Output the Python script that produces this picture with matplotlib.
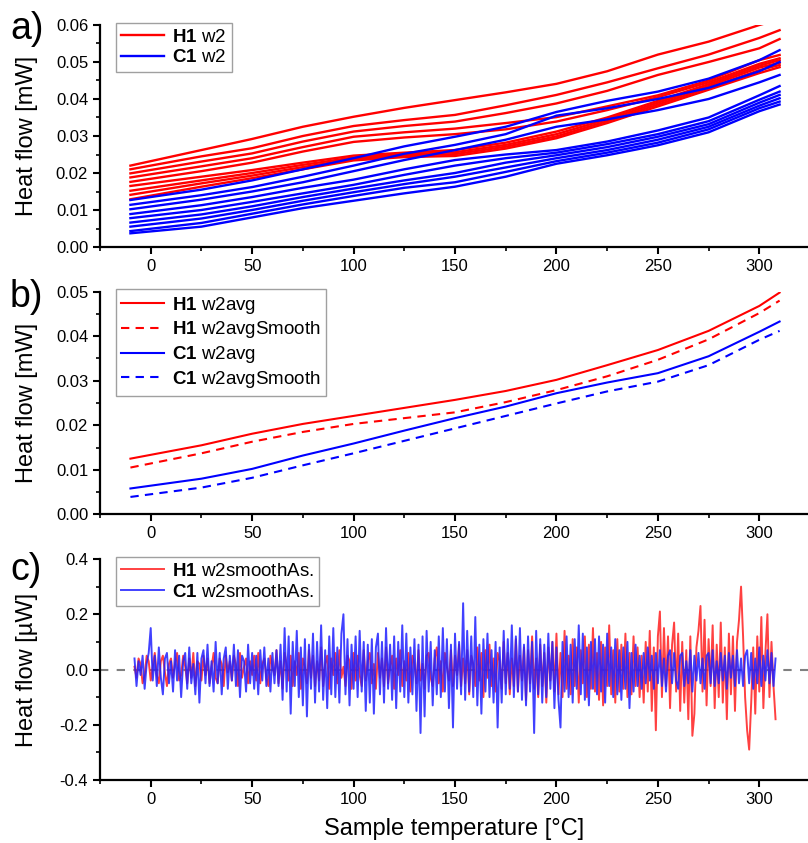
import numpy as np
import matplotlib
matplotlib.use("Agg")
import matplotlib.pyplot as plt
from matplotlib.ticker import MultipleLocator

plt.rcParams['font.family'] = ['Liberation Sans', 'DejaVu Sans']
plt.rcParams['mathtext.fontset'] = 'custom'
plt.rcParams['mathtext.rm'] = 'Liberation Sans'
plt.rcParams['mathtext.bf'] = 'Liberation Sans:bold'

# knot temperatures for panels a) and b)
temp = [-10, 25, 50, 75, 100, 125, 150, 175, 200, 225, 250, 275, 300, 310]

# a) individual H1 runs (red)
h1_runs = [
    [0.0220, 0.0262, 0.0292, 0.0325, 0.0352, 0.0376, 0.0397, 0.0418, 0.0441, 0.0475, 0.0520, 0.0555, 0.0600, 0.0615],
    [0.0210, 0.0245, 0.0267, 0.0300, 0.0327, 0.0343, 0.0357, 0.0383, 0.0411, 0.0445, 0.0483, 0.0520, 0.0565, 0.0586],
    [0.0199, 0.0231, 0.0253, 0.0285, 0.0312, 0.0327, 0.0339, 0.0362, 0.0388, 0.0422, 0.0465, 0.0500, 0.0537, 0.0562],
    [0.0188, 0.0218, 0.0240, 0.0270, 0.0298, 0.0310, 0.0320, 0.0335, 0.0351, 0.0380, 0.0410, 0.0450, 0.0505, 0.0519],
    [0.0176, 0.0205, 0.0228, 0.0258, 0.0284, 0.0296, 0.0305, 0.0318, 0.0339, 0.0370, 0.0405, 0.0445, 0.0495, 0.0510],
    [0.0165, 0.0190, 0.0208, 0.0228, 0.0247, 0.0255, 0.0262, 0.0282, 0.0312, 0.0350, 0.0395, 0.0440, 0.0490, 0.0505],
    [0.0152, 0.0180, 0.0200, 0.0222, 0.0242, 0.0251, 0.0256, 0.0276, 0.0305, 0.0345, 0.0390, 0.0435, 0.0485, 0.0498],
    [0.0141, 0.0172, 0.0193, 0.0216, 0.0238, 0.0247, 0.0251, 0.0271, 0.0299, 0.0340, 0.0385, 0.0430, 0.0478, 0.0492],
    [0.0129, 0.0163, 0.0186, 0.0210, 0.0234, 0.0243, 0.0246, 0.0266, 0.0294, 0.0335, 0.0380, 0.0425, 0.0470, 0.0486],
]

# a) individual C1 runs (blue)
c1_runs = [
    [0.0127, 0.0155, 0.0180, 0.0210, 0.0240, 0.0272, 0.0298, 0.0325, 0.0365, 0.0395, 0.0420, 0.0455, 0.0505, 0.0532],
    [0.0114, 0.0140, 0.0162, 0.0190, 0.0220, 0.0252, 0.0276, 0.0305, 0.0355, 0.0375, 0.0400, 0.0430, 0.0475, 0.0500],
    [0.0102, 0.0128, 0.0150, 0.0175, 0.0205, 0.0235, 0.0262, 0.0290, 0.0325, 0.0345, 0.0370, 0.0400, 0.0445, 0.0465],
    [0.0089, 0.0113, 0.0135, 0.0160, 0.0182, 0.0210, 0.0235, 0.0250, 0.0262, 0.0285, 0.0315, 0.0350, 0.0410, 0.0435],
    [0.0078, 0.0100, 0.0122, 0.0145, 0.0168, 0.0195, 0.0220, 0.0240, 0.0255, 0.0278, 0.0305, 0.0340, 0.0398, 0.0420],
    [0.0066, 0.0088, 0.0110, 0.0135, 0.0158, 0.0180, 0.0200, 0.0228, 0.0248, 0.0270, 0.0298, 0.0332, 0.0390, 0.0411],
    [0.0055, 0.0077, 0.0100, 0.0125, 0.0148, 0.0170, 0.0190, 0.0215, 0.0240, 0.0262, 0.0290, 0.0325, 0.0382, 0.0402],
    [0.0043, 0.0065, 0.0090, 0.0115, 0.0138, 0.0160, 0.0175, 0.0203, 0.0232, 0.0255, 0.0282, 0.0318, 0.0375, 0.0393],
    [0.0037, 0.0055, 0.0080, 0.0105, 0.0125, 0.0145, 0.0163, 0.0190, 0.0225, 0.0248, 0.0275, 0.0310, 0.0367, 0.0385],
]

# b) averages
h1_avg = [0.0125, 0.0155, 0.0181, 0.0203, 0.0221, 0.0239, 0.0257, 0.0277, 0.0302, 0.0335, 0.0369, 0.0412, 0.0468, 0.0498]
h1_avg_smooth = [0.0105, 0.0137, 0.0163, 0.0185, 0.0203, 0.0216, 0.0229, 0.0252, 0.0279, 0.0310, 0.0347, 0.0393, 0.0452, 0.0480]
c1_avg = [0.0058, 0.0080, 0.0102, 0.0132, 0.0159, 0.0188, 0.0216, 0.0242, 0.0272, 0.0296, 0.0317, 0.0355, 0.0410, 0.0433]
c1_avg_smooth = [0.0039, 0.0060, 0.0082, 0.0110, 0.0137, 0.0165, 0.0193, 0.0221, 0.0249, 0.0276, 0.0298, 0.0335, 0.0392, 0.0412]

# c) smoothed difference signals, read every ~1 degC from -8 to 308
h1_resid = [
    0.01, -0.03, 0.04, 0.02, -0.05, -0.02, 0.05, 0.03, -0.04, 0.01,
    0.06, -0.02, -0.05, 0.03, 0.05, -0.01, -0.06, 0.02, 0.04, -0.03,
    0.02, 0.06, -0.04, -0.02, 0.05, 0.01, -0.05, 0.04, -0.03, 0.06,
    -0.06, 0.03, 0.02, -0.04, 0.05, -0.02, 0.04, -0.05, 0.01, 0.06,
    -0.03, -0.05, 0.04, 0.02, -0.06, 0.05, -0.01, 0.03, -0.04, 0.05,
    0.02, -0.06, 0.06, -0.03, 0.01, 0.04, -0.05, 0.03, -0.02, 0.05,
    -0.04, 0.06, -0.05, 0.02, 0.04, -0.03, -0.06, 0.05, 0.01, -0.02,
    0.07, -0.05, 0.03, -0.07, 0.06, 0.02, -0.04, 0.05, -0.06, 0.03,
    -0.02, 0.06, -0.07, 0.04, 0.01, -0.05, 0.07, -0.03, 0.05, -0.06,
    0.03, -0.04, 0.08, -0.06, 0.02, 0.05, -0.07, 0.04, -0.02, 0.06,
    -0.05, 0.07, -0.03, 0.01, -0.06, 0.05, 0.03, -0.07, 0.06, -0.04,
    0.05, -0.02, -0.06, 0.07, -0.04, 0.03, 0.06, -0.05, 0.02, -0.07,
    0.06, -0.03, 0.04, -0.06, 0.08, -0.05, 0.01, 0.05, -0.07, 0.04,
    -0.02, 0.07, -0.06, 0.03, -0.04, 0.06, -0.08, 0.05, 0.02, -0.05,
    0.07, -0.04, 0.02, -0.07, 0.05, 0.06, -0.03, -0.06, 0.04, 0.08,
    -0.05, 0.03, -0.08, 0.06, 0.01, -0.04, 0.07, -0.06, 0.05, -0.02,
    0.09, -0.06, 0.04, -0.05, 0.07, -0.09, 0.05, 0.02, -0.06, 0.08,
    -0.04, 0.06, -0.10, 0.07, -0.03, 0.09, -0.06, 0.04, -0.08, 0.06,
    0.03, -0.07, 0.10, -0.05, 0.06, -0.09, 0.04, -0.06, 0.11, -0.08,
    0.05, -0.04, 0.08, -0.11, 0.07, -0.05, 0.12, -0.07, 0.04, -0.10,
    0.09, -0.06, 0.06, -0.12, 0.08, -0.04, 0.10, -0.08, 0.13, -0.09,
    0.06, -0.10, 0.14, -0.07, 0.05, -0.09, 0.11, -0.06, 0.08, -0.12,
    0.07, -0.05, 0.12, -0.10, 0.09, -0.07, 0.15, -0.08, 0.06, -0.11,
    0.10, -0.13, 0.08, -0.06, 0.16, -0.09, 0.07, -0.12, 0.11, -0.08,
    0.09, -0.07, 0.13, -0.10, 0.06, -0.09, 0.12, -0.06, 0.08, -0.10,
    0.05, -0.12, 0.10, -0.08, 0.14, -0.15, 0.08, -0.22, 0.12, 0.21,
    -0.10, 0.15, -0.06, 0.12, -0.14, 0.09, 0.17, -0.08, 0.13, -0.15,
    0.10, -0.12, 0.07, -0.18, 0.12, -0.24, -0.16, 0.08, 0.14, 0.23,
    -0.08, 0.18, -0.13, 0.11, -0.06, 0.16, -0.14, 0.09, -0.10, 0.17,
    -0.12, 0.08, -0.18, 0.13, -0.09, 0.12, -0.15, 0.10, 0.18, 0.30,
    0.12, -0.10, -0.22, -0.29, -0.12, 0.08, -0.16, 0.12, -0.08, 0.19,
    -0.14, 0.06, 0.20, -0.10, 0.10, -0.06, -0.18,
]
c1_resid = [
    0.04, -0.06, 0.03, -0.02, 0.05, -0.07, 0.02, 0.06, 0.15, -0.04,
    0.05, -0.06, 0.08, -0.03, -0.09, 0.04, 0.06, -0.05, 0.03, -0.08,
    0.07, -0.04, 0.05, -0.10, 0.03, 0.06, -0.07, 0.08, -0.05, 0.02,
    -0.09, 0.06, -0.12, 0.04, 0.07, -0.05, 0.09, -0.06, 0.03, -0.08,
    0.10, -0.05, 0.06, -0.09, 0.04, 0.08, -0.07, 0.05, -0.04, 0.09,
    -0.06, 0.07, -0.10, 0.05, 0.03, -0.08, 0.09, -0.05, 0.06, -0.07,
    0.05, -0.09, 0.07, -0.04, 0.08, -0.06, 0.04, -0.08, 0.06, -0.05,
    0.07, -0.06, 0.09, -0.11, 0.15, -0.08, 0.12, -0.16, 0.10, -0.06,
    0.14, -0.10, 0.08, -0.13, 0.11, -0.17, 0.09, -0.07, 0.13, -0.12,
    0.10, -0.08, 0.16, -0.11, 0.07, -0.14, 0.12, -0.09, 0.15, -0.10,
    0.08, -0.12, 0.13, 0.20, -0.09, 0.11, -0.13, 0.09, -0.07, 0.12,
    -0.10, 0.14, -0.08, 0.10, -0.15, 0.09, -0.12, 0.11, -0.16, 0.08,
    0.13, -0.09, 0.10, -0.12, 0.15, -0.07, 0.09, -0.11, 0.12, -0.14,
    0.10, -0.08, 0.16, -0.10, 0.13, -0.12, 0.08, -0.09, 0.11, -0.15,
    0.09, -0.23, 0.12, -0.17, 0.14, -0.08, 0.10, -0.13, 0.07, -0.09,
    0.12, -0.10, 0.15, -0.08, 0.11, -0.14, 0.09, -0.21, 0.13, -0.07,
    0.10, -0.09, 0.24, -0.11, 0.14, -0.08, 0.12, -0.10, 0.19, -0.13,
    0.09, -0.16, 0.11, -0.08, 0.13, -0.10, 0.07, -0.12, 0.10, -0.21,
    0.08, -0.12, 0.14, -0.09, 0.11, -0.07, 0.16, -0.10, 0.12, -0.08,
    0.15, -0.11, 0.09, -0.13, 0.12, -0.08, 0.10, -0.23, 0.14, -0.09,
    0.11, -0.12, 0.09, -0.10, 0.13, -0.07, 0.10, -0.14, 0.08, -0.11,
    -0.21, 0.10, -0.08, 0.12, -0.10, 0.09, -0.12, 0.11, -0.07, 0.16,
    -0.09, 0.13, -0.11, 0.08, -0.13, 0.10, -0.07, 0.11, -0.09, 0.12,
    -0.08, 0.09, -0.12, 0.13, -0.06, 0.08, -0.10, 0.11, -0.09, 0.07,
    -0.11, 0.08, -0.07, 0.10, -0.14, 0.06, -0.08, 0.09, -0.06, 0.05,
    -0.07, 0.06, -0.05, 0.08, -0.04, 0.05, -0.07, 0.06, -0.05, 0.07,
    -0.06, 0.04, -0.08, 0.05, 0.07, -0.05, 0.06, -0.04, -0.07, 0.05,
    0.06, -0.06, 0.03, -0.05, 0.07, -0.08, 0.05, -0.04, 0.06, -0.05,
    0.04, -0.07, 0.05, 0.06, -0.05, 0.07, -0.06, 0.03, -0.05, 0.06,
    -0.04, 0.05, -0.07, 0.06, -0.03, 0.05, -0.06, 0.07, -0.05, 0.04,
    -0.06, 0.05, 0.07, -0.05, 0.06, -0.07, 0.04, -0.05, 0.08, -0.06,
    0.05, -0.04, 0.07, -0.05, 0.06, -0.06, 0.04,
]

RED = '#ff0000'
BLUE = '#0000ff'

W, H = 808, 843
fig = plt.figure(figsize=(W / 100, H / 100), dpi=100)


def px_axes(left, top, right, bottom):
    return fig.add_axes([left / W, 1 - bottom / H, (right - left) / W, (bottom - top) / H])


def style_axes(ax, ylim, ymaj, ymin):
    ax.set_xlim(-25, 324)
    ax.set_ylim(*ylim)
    for s in ['top', 'right']:
        ax.spines[s].set_visible(False)
    for s in ['left', 'bottom']:
        ax.spines[s].set_linewidth(1.6)
    ax.xaxis.set_major_locator(MultipleLocator(50))
    ax.xaxis.set_minor_locator(MultipleLocator(25))
    ax.yaxis.set_major_locator(MultipleLocator(ymaj))
    ax.yaxis.set_minor_locator(MultipleLocator(ymin))
    ax.tick_params(which='major', direction='out', length=5, width=1.5, labelsize=12)
    ax.tick_params(which='minor', direction='out', length=3, width=1.2)
    ax.yaxis.set_label_coords(-0.088, 0.5)


def add_legend(ax, handles, labels, ytop):
    leg = ax.legend(handles, labels, loc='upper left', bbox_to_anchor=(0.022, ytop),
                    fontsize=13.5, frameon=True, fancybox=False, edgecolor='#a0a0a0',
                    framealpha=1, handlelength=2.3, handletextpad=0.4, borderpad=0.3,
                    labelspacing=0.2, borderaxespad=0)
    leg.get_frame().set_linewidth(1.0)
    return leg


# ---- a)
ax1 = px_axes(100, 25, 808, 247)
for run in h1_runs:
    la, = ax1.plot(temp, run, color=RED, lw=1.7)
for run in c1_runs:
    lb, = ax1.plot(temp, run, color=BLUE, lw=1.7)
style_axes(ax1, (0, 0.06), 0.01, 0.005)
ax1.yaxis.set_major_formatter(plt.FormatStrFormatter('%.2f'))
ax1.set_ylabel('Heat flow [mW]', fontsize=17)
add_legend(ax1, [la, lb], [r'$\mathbf{H1}$ w2', r'$\mathbf{C1}$ w2'], 1.01)

# ---- b)
ax2 = px_axes(100, 291.7, 808, 514.3)
l1, = ax2.plot(temp, h1_avg, color=RED, lw=1.5)
l2, = ax2.plot(temp, h1_avg_smooth, color=RED, lw=1.5, ls=(0, (4, 3)))
l3, = ax2.plot(temp, c1_avg, color=BLUE, lw=1.5)
l4, = ax2.plot(temp, c1_avg_smooth, color=BLUE, lw=1.5, ls=(0, (4, 3)))
style_axes(ax2, (0, 0.05), 0.01, 0.005)
ax2.yaxis.set_major_formatter(plt.FormatStrFormatter('%.2f'))
ax2.set_ylabel('Heat flow [mW]', fontsize=17)
add_legend(ax2, [l1, l2, l3, l4],
           [r'$\mathbf{H1}$ w2avg', r'$\mathbf{H1}$ w2avgSmooth',
            r'$\mathbf{C1}$ w2avg', r'$\mathbf{C1}$ w2avgSmooth'], 1.012)

# ---- c)
ax3 = px_axes(100, 559, 808, 780)
ax3.axhline(0, color='#808080', lw=1.5, ls=(0, (4, 4)), zorder=1)
t_c_h = np.linspace(-8, 308, len(h1_resid))
t_c_c = np.linspace(-8, 308, len(c1_resid))
m1, = ax3.plot(t_c_h, h1_resid, color='#ff2020', lw=1.4, alpha=0.85, zorder=2)
m2, = ax3.plot(t_c_c, c1_resid, color='#2020ff', lw=1.4, alpha=0.85, zorder=3)
style_axes(ax3, (-0.4, 0.4), 0.2, 0.1)
ax3.yaxis.set_major_formatter(plt.FormatStrFormatter('%.1f'))
ax3.set_ylabel('Heat flow [µW]', fontsize=17)
ax3.set_xlabel('Sample temperature [°C]', fontsize=17, labelpad=8)
add_legend(ax3, [m1, m2], [r'$\mathbf{H1}$ w2smoothAs.', r'$\mathbf{C1}$ w2smoothAs.'], 1.009)

# panel letters
fig.text(10 / W, 1 - 29 / H, 'a)', fontsize=27, va='center')
fig.text(10 / W, 1 - 297 / H, 'b)', fontsize=27, va='center')
fig.text(10 / W, 1 - 570 / H, 'c)', fontsize=27, va='center')

fig.savefig('out.png', dpi=100)
